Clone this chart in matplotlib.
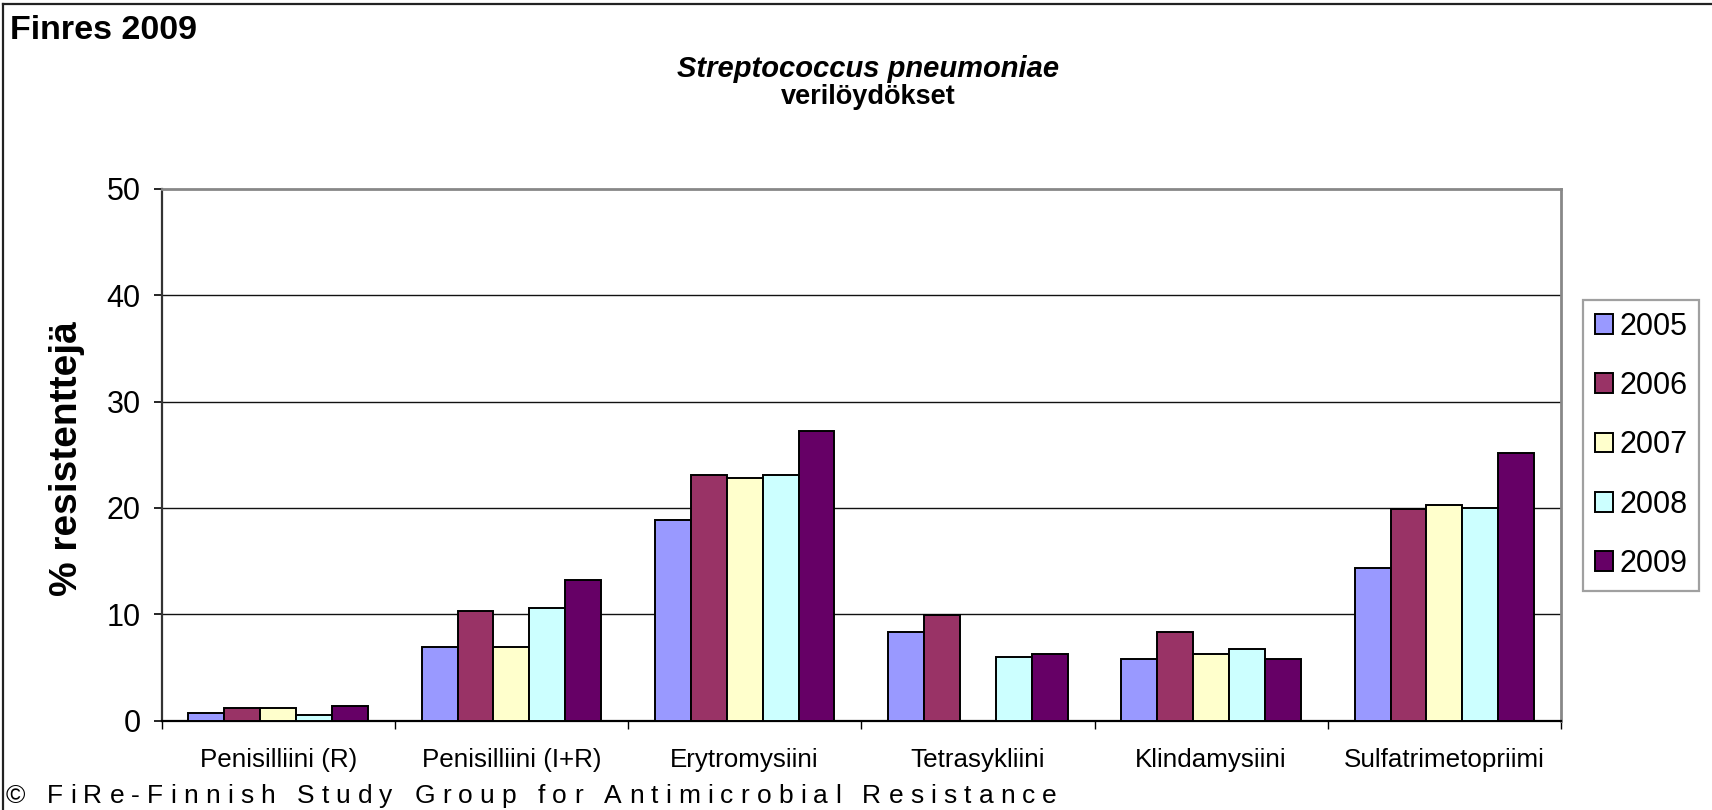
import numpy as np
import matplotlib
matplotlib.use("Agg")
import matplotlib.pyplot as plt
from matplotlib.patches import Patch
from matplotlib.lines import Line2D
from matplotlib.ft2font import FT2Font
from matplotlib.font_manager import FontProperties, findfont

plt.rcParams['font.family'] = ['Liberation Sans', 'DejaVu Sans']

categories = ["Penisilliini (R)", "Penisilliini (I+R)", "Erytromysiini",
              "Tetrasykliini", "Klindamysiini", "Sulfatrimetopriimi"]
years = ["2005", "2006", "2007", "2008", "2009"]
v2005 = [0.7, 6.9, 18.9, 8.3, 5.8, 14.3]
v2006 = [1.2, 10.3, 23.1, 9.9, 8.3, 19.9]
v2007 = [1.2, 6.9, 22.8, np.nan, 6.3, 20.3]
v2008 = [0.5, 10.6, 23.1, 6.0, 6.7, 20.0]
v2009 = [1.4, 13.2, 27.2, 6.3, 5.8, 25.2]
series = [v2005, v2006, v2007, v2008, v2009]
colors = ["#9999FF", "#993366", "#FFFFCC", "#CCFFFF", "#660066"]

W, H, DPI = 1712, 810, 100
fig = plt.figure(figsize=(W / DPI, H / DPI), dpi=DPI)
fig.patch.set_facecolor("white")

# plot area in pixels
left, right, top, bottom = 161.6, 1561, 189, 720.5
ax = fig.add_axes([left / W, 1 - bottom / H, (right - left) / W, (bottom - top) / H])

x = np.arange(len(categories))
bw = 0.154
for i, vals in enumerate(series):
    ax.bar(x + (i - 2) * bw, vals, bw, color=colors[i], edgecolor="black",
           linewidth=1.4, zorder=3)

ax.set_xlim(-0.5, len(categories) - 0.5)
ax.set_ylim(0, 50)
ax.set_yticks([0, 10, 20, 30, 40, 50])
ax.tick_params(axis="y", labelsize=22, length=6, width=1.2, pad=9, direction="out")
ax.set_xticks(x)
ax.set_xticklabels(categories)
ax.tick_params(axis="x", which="major", labelsize=18.7, length=0, pad=20)
ax.set_xticks(np.arange(-0.5, len(categories)), minor=True)
ax.tick_params(axis="x", which="minor", length=6, width=1.0, direction="out")

for yv in [10, 20, 30, 40]:
    ax.axhline(yv, color="#111111", linewidth=1.0, zorder=1)

ax.spines["left"].set_color("#333333")
ax.spines["left"].set_linewidth(1.6)
ax.spines["bottom"].set_color("#000000")
ax.spines["bottom"].set_linewidth(1.6)
for s in ["top", "right"]:
    ax.spines[s].set_color("#888888")
    ax.spines[s].set_linewidth(2.0)

fig.text(67 / W, 1 - 459 / H, "% resistenttejä", rotation=90, ha="center",
         va="center", fontsize=28, fontweight="bold")

# titles
fig.text(10 / W, 1 - 39 / H, "Finres 2009", fontsize=24.5, fontweight="bold",
         va="baseline", ha="left")
fig.text(868 / W, 1 - 77 / H, "Streptococcus pneumoniae", fontsize=21,
         fontweight="bold", style="italic", ha="center", va="baseline")
fig.text(868 / W, 1 - 104 / H, "verilöydökset", fontsize=19.5,
         fontweight="bold", ha="center", va="baseline")

# legend
handles = [Patch(facecolor=c, edgecolor="black", linewidth=1.4) for c in colors]
leg = fig.legend(handles, years, loc="upper left",
                 bbox_to_anchor=(1583 / W, 1 - 300 / H), fontsize=22,
                 frameon=True, fancybox=False, borderaxespad=0,
                 handlelength=0.6, handleheight=0.6, handletextpad=0.22,
                 labelspacing=0.96, borderpad=0.38)
leg.get_frame().set_edgecolor("#888888")
leg.get_frame().set_linewidth(1.6)

# outer border (left and top)
fig.add_artist(Line2D([3.5 / W, 3.5 / W], [0, 1 - 3.5 / H], color="#222222",
                      linewidth=1.6, transform=fig.transFigure))
fig.add_artist(Line2D([3.5 / W, 1], [1 - 3.5 / H, 1 - 3.5 / H], color="#222222",
                      linewidth=1.6, transform=fig.transFigure))

# footer with wide letter spacing
footer = "© FiRe-Finnish Study Group for Antimicrobial Resistance"
fs = 19
prop = FontProperties(family="Liberation Sans", size=fs)
font = FT2Font(findfont(prop))
font.set_size(fs, DPI)
advances = []
for ch in footer:
    g = font.load_char(ord(ch))
    advances.append(g.linearHoriAdvance / 65536)
x0, x1 = 6, 1057
natural = sum(advances[:-1])
track = (x1 - x0 - advances[-1] - natural) / (len(footer) - 1)
px = x0
for ch, adv in zip(footer, advances):
    fig.text(px / W, 1 - 803 / H, ch, fontsize=fs, ha="left", va="baseline",
             family="Liberation Sans")
    px += adv + track

fig.savefig("out.png", dpi=DPI)
